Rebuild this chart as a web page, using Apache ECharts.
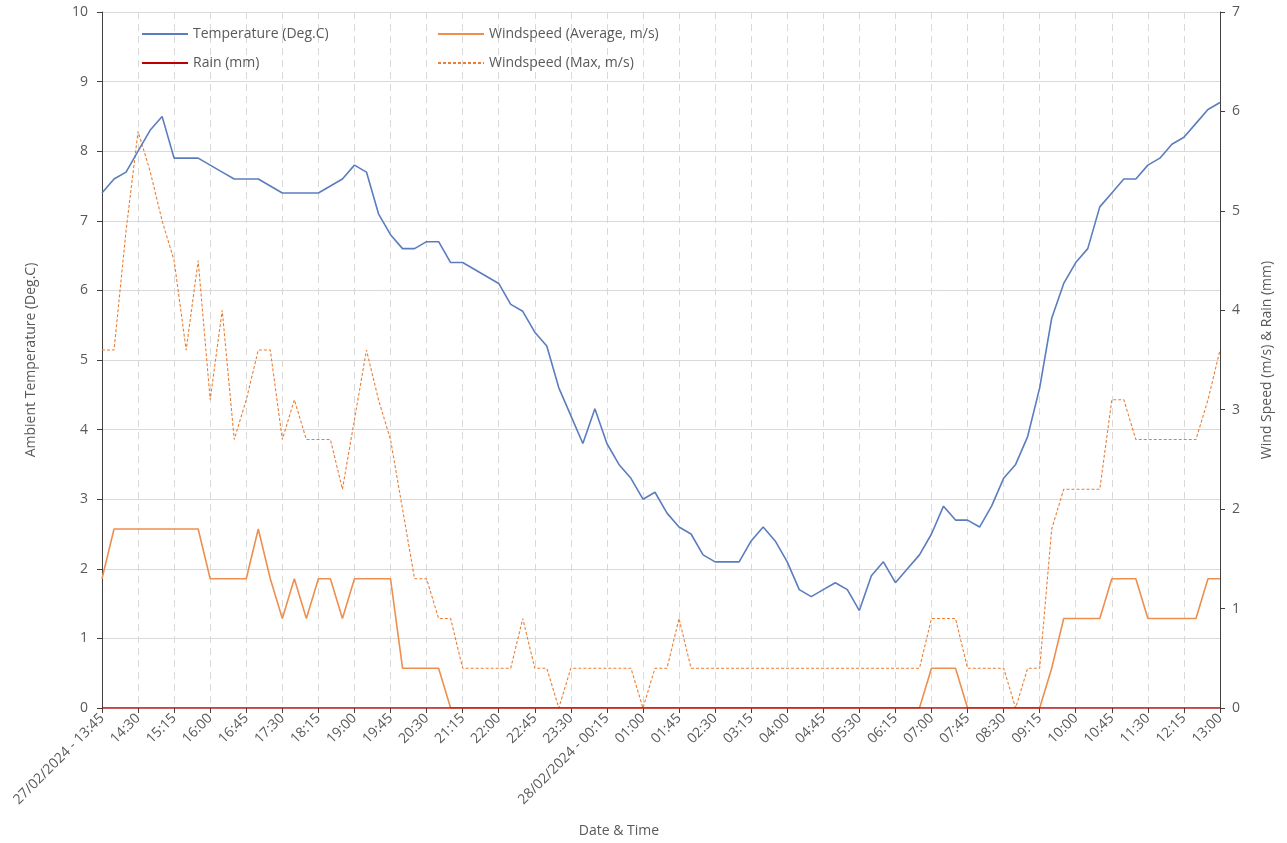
<!DOCTYPE html>
<html>
<head>
<meta charset="utf-8">
<script src="https://cdn.jsdelivr.net/npm/echarts@6/dist/echarts.min.js"></script>
<style>
html,body{margin:0;padding:0;background:#fff;}
#chart{width:1287px;height:843px;}
</style>
</head>
<body>
<div id="chart"></div>
<script>
var categories = [
"27/02/2024 - 13:45","14:00","14:15","14:30","14:45","15:00","15:15","15:30","15:45","16:00",
"16:15","16:30","16:45","17:00","17:15","17:30","17:45","18:00","18:15","18:30",
"18:45","19:00","19:15","19:30","19:45","20:00","20:15","20:30","20:45","21:00",
"21:15","21:30","21:45","22:00","22:15","22:30","22:45","23:00","23:15","23:30",
"23:45","28/02/2024 - 00:00","28/02/2024 - 00:15","00:30","00:45","01:00","01:15","01:30","01:45","02:00",
"02:15","02:30","02:45","03:00","03:15","03:30","03:45","04:00","04:15","04:30",
"04:45","05:00","05:15","05:30","05:45","06:00","06:15","06:30","06:45","07:00",
"07:15","07:30","07:45","08:00","08:15","08:30","08:45","09:00","09:15","09:30",
"09:45","10:00","10:15","10:30","10:45","11:00","11:15","11:30","11:45","12:00",
"12:15","12:30","12:45","13:00"
];

var temperature = [
7.4,7.6,7.7,8.0,8.3,8.5,7.9,7.9,7.9,7.8,
7.7,7.6,7.6,7.6,7.5,7.4,7.4,7.4,7.4,7.5,
7.6,7.8,7.7,7.1,6.8,6.6,6.6,6.7,6.7,6.4,
6.4,6.3,6.2,6.1,5.8,5.7,5.4,5.2,4.6,4.2,
3.8,4.3,3.8,3.5,3.3,3.0,3.1,2.8,2.6,2.5,
2.2,2.1,2.1,2.1,2.4,2.6,2.4,2.1,1.7,1.6,
1.7,1.8,1.7,1.4,1.9,2.1,1.8,2.0,2.2,2.5,
2.9,2.7,2.7,2.6,2.9,3.3,3.5,3.9,4.6,5.6,
6.1,6.4,6.6,7.2,7.4,7.6,7.6,7.8,7.9,8.1,
8.2,8.4,8.6,8.7
];

var windAvg = [
1.3,1.8,1.8,1.8,1.8,1.8,1.8,1.8,1.8,1.3,
1.3,1.3,1.3,1.8,1.3,0.9,1.3,0.9,1.3,1.3,
0.9,1.3,1.3,1.3,1.3,0.4,0.4,0.4,0.4,0,
0,0,0,0,0,0,0,0,0,0,
0,0,0,0,0,0,0,0,0,0,
0,0,0,0,0,0,0,0,0,0,
0,0,0,0,0,0,0,0,0,0.4,
0.4,0.4,0,0,0,0,0,0,0,0.4,
0.9,0.9,0.9,0.9,1.3,1.3,1.3,0.9,0.9,0.9,
0.9,0.9,1.3,1.3
];

var windMax = [
3.6,3.6,4.8,5.8,5.4,4.9,4.5,3.6,4.5,3.1,
4.0,2.7,3.1,3.6,3.6,2.7,3.1,2.7,2.7,2.7,
2.2,2.9,3.6,3.1,2.7,2.0,1.3,1.3,0.9,0.9,
0.4,0.4,0.4,0.4,0.4,0.9,0.4,0.4,0,0.4,
0.4,0.4,0.4,0.4,0.4,0,0.4,0.4,0.9,0.4,
0.4,0.4,0.4,0.4,0.4,0.4,0.4,0.4,0.4,0.4,
0.4,0.4,0.4,0.4,0.4,0.4,0.4,0.4,0.4,0.9,
0.9,0.9,0.4,0.4,0.4,0.4,0,0.4,0.4,1.8,
2.2,2.2,2.2,2.2,3.1,3.1,2.7,2.7,2.7,2.7,
2.7,2.7,3.1,3.6
];

var rain = [
0,0,0,0,0,0,0,0,0,0,
0,0,0,0,0,0,0,0,0,0,
0,0,0,0,0,0,0,0,0,0,
0,0,0,0,0,0,0,0,0,0,
0,0,0,0,0,0,0,0,0,0,
0,0,0,0,0,0,0,0,0,0,
0,0,0,0,0,0,0,0,0,0,
0,0,0,0,0,0,0,0,0,0,
0,0,0,0,0,0,0,0,0,0,
0,0,0,0
];

var FONT = '"Open Sans", "Noto Sans", sans-serif';
var TXT = '#595959';
var GRID = '#d9d9d9';

var chart = echarts.init(document.getElementById('chart'), null, {renderer: 'canvas'});
var legendCommon = {
  orient: 'vertical', top: 22,
  itemWidth: 46, itemHeight: 14, itemGap: 15,
  itemStyle: {opacity: 0},
  textStyle: {fontFamily: FONT, fontSize: 14, color: TXT}
};
chart.setOption({
  animation: false,
  backgroundColor: '#ffffff',
  textStyle: {fontFamily: FONT, color: TXT},
  grid: {left: 102, right: 67, top: 12, bottom: 135, containLabel: false},
  legend: [
    Object.assign({data: ['Temperature (Deg.C)', 'Rain (mm)'], left: 136}, legendCommon),
    Object.assign({data: ['Windspeed (Average, m/s)', 'Windspeed (Max, m/s)'], left: 432}, legendCommon)
  ],
  xAxis: {
    type: 'category',
    data: categories,
    boundaryGap: false,
    name: 'Date & Time',
    nameLocation: 'middle',
    nameGap: 116,
    nameTextStyle: {fontFamily: FONT, fontSize: 14, color: TXT, padding: [0, 84, 0, 0]},
    axisLine: {show: true, lineStyle: {color: GRID, width: 1}},
    axisTick: {show: true, interval: 2, length: 5, lineStyle: {color: '#404040'}},
    axisLabel: {interval: 2, rotate: 45, fontFamily: FONT, fontSize: 14, color: TXT, margin: 8},
    splitLine: {show: true, interval: 2, lineStyle: {color: GRID, type: [7, 5], width: 1}}
  },
  yAxis: [
    {
      type: 'value', min: 0, max: 10, interval: 1,
      name: 'Ambient Temperature (Deg.C)',
      nameLocation: 'middle', nameGap: 64, nameRotate: 90,
      nameTextStyle: {fontFamily: FONT, fontSize: 14, color: TXT},
      axisLine: {show: true, lineStyle: {color: '#404040', width: 1}},
      axisTick: {show: true, length: 5, lineStyle: {color: '#404040'}},
      axisLabel: {fontFamily: FONT, fontSize: 14, color: TXT, margin: 14},
      splitLine: {show: true, lineStyle: {color: GRID, width: 1}}
    },
    {
      type: 'value', min: 0, max: 7, interval: 1,
      name: 'Wind Speed (m/s) & Rain (mm)',
      nameLocation: 'middle', nameGap: 40, nameRotate: 90,
      nameTextStyle: {fontFamily: FONT, fontSize: 14, color: TXT},
      axisLine: {show: true, lineStyle: {color: '#404040', width: 1}},
      axisTick: {show: true, length: 5, lineStyle: {color: '#404040'}},
      axisLabel: {fontFamily: FONT, fontSize: 14, color: TXT, margin: 12},
      splitLine: {show: false}
    }
  ],
  series: [
    {
      name: 'Temperature (Deg.C)', type: 'line', yAxisIndex: 0,
      data: temperature, symbol: 'none', z: 4,
      lineStyle: {color: '#5b7dbf', width: 1.6},
      itemStyle: {color: '#5b7dbf'}
    },
    {
      name: 'Windspeed (Average, m/s)', type: 'line', yAxisIndex: 1,
      data: windAvg, symbol: 'none', z: 3,
      lineStyle: {color: '#ef8f4f', width: 1.6},
      itemStyle: {color: '#ef8f4f'}
    },
    {
      name: 'Rain (mm)', type: 'line', yAxisIndex: 1,
      data: rain, symbol: 'none', z: 5,
      lineStyle: {color: '#c00000', width: 1.6},
      itemStyle: {color: '#c00000'}
    },
    {
      name: 'Windspeed (Max, m/s)', type: 'line', yAxisIndex: 1,
      data: windMax, symbol: 'none', z: 3,
      lineStyle: {color: '#ed7d31', width: 1.1, type: [3, 2]},
      itemStyle: {color: '#ed7d31'}
    }
  ]
});
</script>
</body>
</html>
